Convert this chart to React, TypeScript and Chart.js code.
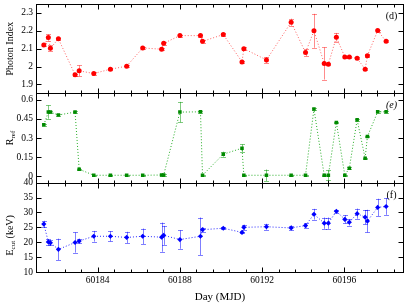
import React, { useEffect, useRef } from 'react';
import { Chart, registerables } from 'chart.js';
Chart.register(...registerables);

const days = [
  60181.38, 60181.6, 60181.7, 60182.09, 60182.9, 60183.1, 60183.81, 60184.62,
  60185.41, 60186.19, 60187.11, 60187.21, 60188.0, 60189.0, 60189.1, 60190.11,
  60191.02, 60191.11, 60192.21, 60193.41, 60194.11, 60194.52, 60195.02, 60195.22,
  60195.61, 60196.02, 60196.24, 60196.62, 60197.01, 60197.12, 60197.62, 60198.03,
];
const photonIndex = [
  2.121, 2.162, 2.102, 2.155, 1.954, 1.976, 1.961, 1.985,
  2.002, 2.104, 2.097, 2.13, 2.173, 2.173, 2.141, 2.179,
  2.026, 2.1, 2.037, 2.248, 2.078, 2.2, 2.017, 2.013,
  2.164, 2.054, 2.054, 2.046, 1.985, 2.061, 2.201, 2.141,
];
const photonErr = [
  0.008, 0.018, 0.016, 0.006, 0.006, 0.03, 0.006, 0.006,
  0.006, 0.006, 0.006, 0.008, 0.006, 0.006, 0.008, 0.006,
  0.006, 0.008, 0.016, 0.02, 0.02, 0.095, 0.09, 0.006,
  0.024, 0.006, 0.006, 0.006, 0.006, 0.008, 0.006, 0.006,
];
const rRef = [
  0.403, 0.503, 0.503, 0.48, 0.503, 0.055, 0.008, 0.008,
  0.008, 0.008, 0.01, 0.01, 0.503, 0.505, 0.008, 0.173,
  0.22, 0.008, 0.008, 0.008, 0.008, 0.527, 0.008, 0.008,
  0.422, 0.008, 0.063, 0.443, 0.141, 0.311, 0.505, 0.505,
];
const rRefErr = [
  0.006, 0.052, 0.006, 0.006, 0.006, 0.006, 0.004, 0.004,
  0.004, 0.004, 0.004, 0.004, 0.08, 0.006, 0.004, 0.02,
  0.03, 0.004, 0.045, 0.004, 0.004, 0.006, 0.004, 0.04,
  0.006, 0.004, 0.006, 0.006, 0.006, 0.006, 0.006, 0.006,
];
const eCut = [
  26.1, 20.1, 19.8, 17.6, 19.9, 20.4, 22.0, 22.0,
  21.6, 22.0, 21.7, 22.3, 20.9, 22.0, 24.2, 24.7,
  23.3, 25.0, 25.2, 24.8, 25.6, 29.4, 26.4, 26.4,
  30.4, 27.7, 26.7, 29.6, 28.4, 27.1, 31.7, 32.0,
];
const eCutErr = [
  1.1, 1.0, 0.9, 3.6, 3.4, 0.7, 1.8, 1.7,
  1.9, 2.6, 4.9, 3.2, 3.1, 6.3, 0.7, 0.3,
  0.3, 0.9, 1.0, 0.8, 0.7, 1.8, 1.9, 1.9,
  0.5, 1.4, 1.1, 1.7, 2.4, 3.8, 2.9, 2.8,
];
const xTickLabels = [60184, 60188, 60192, 60196];
const photonTicks = [1.9, 2.0, 2.1, 2.2, 2.3];
const rRefTicks = [0, 0.15, 0.3, 0.45, 0.6];
const eCutTicks = [10, 15, 20, 25, 30, 35, 40];

const SERIF = "'Liberation Serif', 'DejaVu Serif', serif";

const panels = [
  { id: 'yP', label: '(d)', italic: false, values: photonIndex, errs: photonErr, errColor: 'rgba(255,0,0,0.45)' },
  { id: 'yR', label: '(e)', italic: true, values: rRef, errs: rRefErr, errColor: 'rgba(0,150,0,0.5)' },
  { id: 'yE', label: '(f)', italic: false, values: eCut, errs: eCutErr, errColor: 'rgba(0,0,255,0.5)' },
];

function drawRotTitle(ctx: CanvasRenderingContext2D, cx: number, cy: number, parts: { t: string; sub?: boolean }[]) {
  ctx.save();
  ctx.translate(cx, cy);
  ctx.rotate(-Math.PI / 2);
  const main = `10px ${SERIF}`;
  const sub = `7px ${SERIF}`;
  let total = 0;
  parts.forEach((p) => {
    ctx.font = p.sub ? sub : main;
    total += ctx.measureText(p.t).width;
  });
  let x = -total / 2;
  ctx.fillStyle = '#000';
  ctx.textBaseline = 'middle';
  ctx.textAlign = 'left';
  parts.forEach((p) => {
    ctx.font = p.sub ? sub : main;
    ctx.fillText(p.t, x, p.sub ? 3 : 0);
    x += ctx.measureText(p.t).width;
  });
  ctx.restore();
}

const framePlugin = {
  id: 'frames',
  beforeDatasetsDraw(chart: any) {
    const ctx: CanvasRenderingContext2D = chart.ctx;
    const xs = chart.scales.x;
    ctx.save();
    ctx.lineWidth = 1;
    panels.forEach((p) => {
      const ys = chart.scales[p.id];
      ctx.strokeStyle = p.errColor;
      days.forEach((d, i) => {
        const e = p.errs[i];
        const px = Math.round(xs.getPixelForValue(d)) + 0.5;
        const y1 = ys.getPixelForValue(p.values[i] - e);
        const y2 = ys.getPixelForValue(p.values[i] + e);
        ctx.beginPath();
        ctx.moveTo(px, y1);
        ctx.lineTo(px, y2);
        ctx.moveTo(px - 2.5, Math.round(y1) + 0.5);
        ctx.lineTo(px + 2.5, Math.round(y1) + 0.5);
        ctx.moveTo(px - 2.5, Math.round(y2) + 0.5);
        ctx.lineTo(px + 2.5, Math.round(y2) + 0.5);
        ctx.stroke();
      });
    });
    ctx.restore();
  },
  afterDraw(chart: any) {
    const ctx: CanvasRenderingContext2D = chart.ctx;
    const area = chart.chartArea;
    const xs = chart.scales.x;
    ctx.save();
    ctx.strokeStyle = '#000';
    ctx.lineWidth = 1;
    panels.forEach((p) => {
      const ys = chart.scales[p.id];
      const top = Math.round(ys.top) + 0.5;
      const bottom = Math.round(ys.bottom) + 0.5;
      const left = Math.round(area.left) + 0.5;
      const right = Math.round(area.right) - 0.5;
      ctx.strokeRect(left, top, right - left, bottom - top);
      ctx.beginPath();
      for (let k = -4; k <= 18; k++) {
        const v = xTickLabels[0] + k * 0.8;
        if (v <= xs.min || v >= xs.max) continue;
        const major = k % 5 === 0;
        const len = major ? 5 : 3;
        const px = Math.round(xs.getPixelForValue(v)) + 0.5;
        ctx.moveTo(px, bottom);
        ctx.lineTo(px, bottom - len);
        ctx.moveTo(px, top);
        ctx.lineTo(px, top + len);
      }
      ys.ticks.forEach((t: any) => {
        const py = Math.round(ys.getPixelForValue(t.value)) + 0.5;
        ctx.moveTo(left, py);
        ctx.lineTo(left + 5, py);
        ctx.moveTo(right, py);
        ctx.lineTo(right - 5, py);
      });
      ctx.stroke();
      ctx.fillStyle = '#000';
      ctx.font = `${p.italic ? 'italic ' : ''}10px ${SERIF}`;
      ctx.textAlign = 'center';
      ctx.textBaseline = 'middle';
      ctx.fillText(p.label, right - 12, top + 12);
    });
    const yP = chart.scales.yP;
    const yR = chart.scales.yR;
    const yE = chart.scales.yE;
    drawRotTitle(ctx, 10, (yP.top + yP.bottom) / 2, [{ t: 'Photon Index' }]);
    drawRotTitle(ctx, 10, (yR.top + yR.bottom) / 2, [{ t: 'R' }, { t: 'ref', sub: true }]);
    drawRotTitle(ctx, 10, (yE.top + yE.bottom) / 2 + 8, [{ t: 'E' }, { t: 'cut', sub: true }, { t: ' (keV)' }]);
    ctx.restore();
  },
};

function noPad(s: any) {
  s.paddingTop = 0;
  s.paddingBottom = 0;
  s.paddingLeft = 0;
  s.paddingRight = 0;
}

function yScale(min: number, max: number, ticks: number[]) {
  return {
    type: 'linear',
    position: 'left',
    stack: 'panels',
    stackWeight: 1,
    min,
    max,
    grid: { display: false, drawTicks: false },
    border: { display: false },
    afterBuildTicks: (s: any) => {
      s.ticks = ticks.map((v) => ({ value: v }));
    },
    afterFit: (s: any) => {
      s.width = 36;
      noPad(s);
    },
    ticks: {
      autoSkip: false,
      padding: 3,
      color: '#000',
      font: { family: SERIF, size: 9.5 },
      callback: (v: number) => String(+Number(v).toFixed(2)),
    },
  };
}

export default function App() {
  const ref = useRef<HTMLCanvasElement | null>(null);
  useEffect(() => {
    if (!ref.current) return;
    const mk = (vals: number[]) => days.map((d, i) => ({ x: d, y: vals[i] }));
    const chart = new Chart(ref.current, {
      type: 'line',
      data: {
        datasets: [
          {
            label: 'Photon Index',
            data: mk(photonIndex),
            yAxisID: 'yP',
            borderColor: 'rgba(255,70,70,0.85)',
            borderDash: [1, 2],
            borderWidth: 1,
            pointStyle: 'circle',
            pointRadius: 2.5,
            pointBackgroundColor: '#ff0000',
            pointBorderColor: '#ff0000',
            pointBorderWidth: 0,
          },
          {
            label: 'R_ref',
            data: mk(rRef),
            yAxisID: 'yR',
            borderColor: 'rgba(0,160,0,0.85)',
            borderDash: [1, 2],
            borderWidth: 1,
            pointStyle: 'rect',
            pointRadius: 2.5,
            pointBackgroundColor: '#008a00',
            pointBorderColor: '#008a00',
            pointBorderWidth: 0,
          },
          {
            label: 'E_cut',
            data: mk(eCut),
            yAxisID: 'yE',
            borderColor: 'rgba(0,0,255,0.85)',
            borderDash: [1, 2],
            borderWidth: 1,
            pointStyle: 'rectRot',
            pointRadius: 2.6,
            pointBackgroundColor: '#0000ff',
            pointBorderColor: '#0000ff',
            pointBorderWidth: 0,
          },
        ],
      },
      options: {
        animation: false,
        responsive: false,
        devicePixelRatio: 1,
        layout: { padding: { top: 1, right: 5, left: 0, bottom: 0 } },
        plugins: { legend: { display: false }, tooltip: { enabled: false } },
        scales: {
          x: {
            type: 'linear',
            min: 60181,
            max: 60198.9,
            grid: { display: false, drawTicks: false },
            border: { display: false },
            afterBuildTicks: (s: any) => {
              s.ticks = xTickLabels.map((v) => ({ value: v }));
            },
            afterFit: (s: any) => {
              s.height = 34;
              noPad(s);
            },
            ticks: {
              autoSkip: false,
              maxRotation: 0,
              padding: 3,
              color: '#000',
              font: { family: SERIF, size: 9.5 },
              callback: (v: number) => String(v),
            },
            title: {
              display: true,
              text: 'Day (MJD)',
              color: '#000',
              font: { family: SERIF, size: 11 },
              padding: { top: 0, bottom: 2 },
            },
          },
          yE: yScale(10, 40, eCutTicks),
          yR: yScale(-0.05, 0.65, rRefTicks),
          yP: yScale(1.85, 2.35, photonTicks),
        } as any,
      },
      plugins: [framePlugin],
    });
    return () => chart.destroy();
  }, []);
  return (
    <div style={{ position: 'fixed', left: 0, top: 0, width: 409, height: 306, background: '#fff' }}>
      <canvas ref={ref} width={409} height={306} style={{ width: 409, height: 306 }} />
    </div>
  );
}
